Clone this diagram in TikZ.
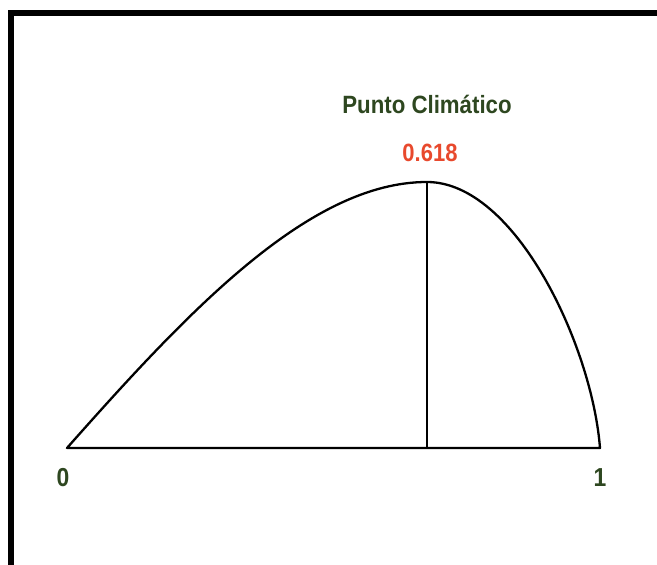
\documentclass[tikz,border=0pt]{standalone}
\usepackage{fontspec}
\setmainfont{Liberation Sans}
\definecolor{lblgreen}{HTML}{2E4720}
\definecolor{lblred}{HTML}{E8492D}
\begin{document}
\begin{tikzpicture}[x=1pt,y=-1pt,
  lbl/.style={anchor=base,inner sep=0pt,font=\fontsize{25}{25}\selectfont\bfseries},
  numlbl/.style={anchor=base,inner sep=0pt,font=\fontsize{26}{26}\selectfont\bfseries},
  curveline/.style={line width=2.3pt,line join=round},
]
\useasboundingbox (0,0) rectangle (657,565);
\begin{scope}
\clip (0,0) rectangle (657,565);
\draw[line width=6pt,line join=miter] (11,575) -- (11,13) -- (667,13);
\end{scope}
\coordinate (A) at (67,448);
\coordinate (P) at (427,182);
\coordinate (B) at (600,448);
\coordinate (F) at (427,448);
\draw[curveline] (A) .. controls (190,309) and (310,182) .. (P)
  .. controls (515,182) and (592,345) .. (B) -- (A) -- cycle;
\draw[line width=1.8pt] (P) -- (F);
\node[lbl,text=lblgreen] (title) at (427,113) {\scalebox{0.89}[1]{Punto Climático}};
\node[lbl,text=lblred] (val) at (430,161.5) {\scalebox{0.88}[1]{0.618}};
\node[numlbl,text=lblgreen] (zero) at (63,486.5) {\scalebox{0.88}[1]{0}};
\node[numlbl,text=lblgreen] (one) at (600,486.5) {\scalebox{0.88}[1]{1}};
\end{tikzpicture}
\end{document}
